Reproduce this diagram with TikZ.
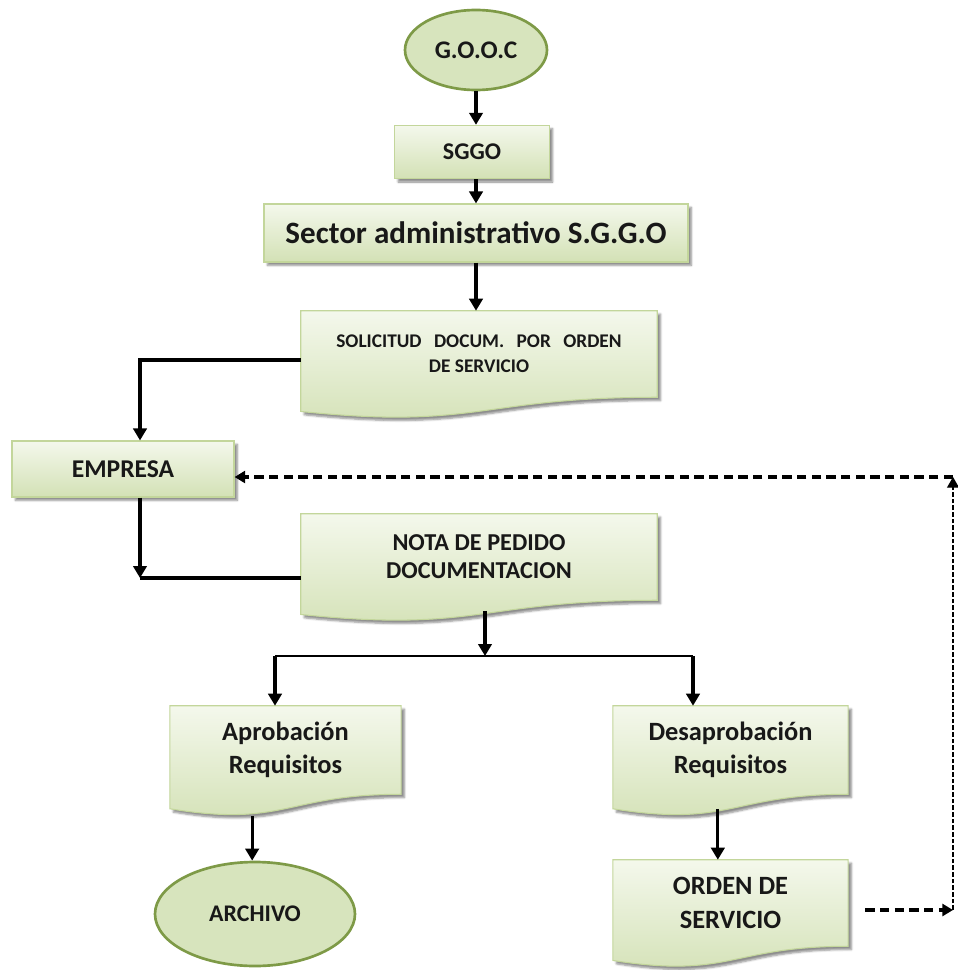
\documentclass[tikz,border=0pt]{standalone}
\usepackage{fontspec}
\setmainfont{Carlito}
\usetikzlibrary{arrows.meta,shapes.geometric,shadows.blur,backgrounds}

\definecolor{boxtop}{HTML}{F4F8EC}
\definecolor{boxbot}{HTML}{D3E1B5}
\definecolor{boxline}{HTML}{C3D69B}
\definecolor{ovalfill}{HTML}{D7E4BD}
\definecolor{ovalline}{HTML}{7E9A47}
\definecolor{txt}{HTML}{181818}

\tikzset{
    myshadow/.style={blur shadow={shadow xshift=2.5pt,shadow yshift=-2.5pt,
                     shadow blur steps=5,shadow blur radius=1.5pt,shadow opacity=45}},
    box/.style={rectangle,draw=boxline,line width=0.8pt,top color=boxtop,
                bottom color=boxbot,myshadow,text=txt,font=\bfseries,align=center},
    docnode/.style={rectangle,inner sep=0pt,text=txt,font=\bfseries,align=center},
    docfill/.style={draw=boxline,line width=0.8pt,top color=boxtop,bottom color=boxbot,myshadow},
    oval/.style={ellipse,draw=ovalline,line width=2pt,fill=ovalfill,inner sep=0pt,
                 text=txt,font=\bfseries},
    flow/.style={line width=2.4pt,-{Triangle[width=10pt,length=9pt]}},
    plainline/.style={line width=2.4pt},
    splitline/.style={line width=1.6pt},
    backflow/.style={line width=2.4pt,dash pattern=on 7pt off 4pt,-{Triangle[width=9pt,length=8pt]}},
    thindash/.style={line width=0.8pt,dash pattern=on 3.5pt off 1.5pt,-{Triangle[width=9pt,length=8pt]}}
}

% document shape: name, height of the straight part
\newcommand{\docpath}[2]{%
    \path[docfill] (#1.north west) -- (#1.north east) -- (#1.south east)
        .. controls (#1.south) and ([yshift={-0.38*#2}]#1.south)
        .. ([yshift={-0.165*#2}]#1.south west) -- cycle;}

\begin{document}
\begin{tikzpicture}[x=0.75pt,y=-0.75pt]
    \useasboundingbox (0,0) rectangle (957,970);

    \node[oval,minimum width=106.5pt,minimum height=60pt,font=\bfseries\fontsize{19}{22}\selectfont] (gooc) at (476,50) {G.O.O.C};
    \node[box,minimum width=116pt,minimum height=40pt,font=\bfseries\fontsize{18}{21}\selectfont] (sggo) at (472,152) {SGGO};
    \node[box,minimum width=318pt,minimum height=43.5pt,font=\bfseries\fontsize{23.3}{27}\selectfont] (sector) at (476,233) {Sector administrativo S.G.G.O};
    \node[docnode,minimum width=267pt,minimum height=64.5pt,font=\bfseries\fontsize{14.5}{19}\selectfont] (sol) at (479,354)
        {\makebox[214pt][s]{SOLICITUD DOCUM. POR ORDEN}\\DE SERVICIO};
    \node[box,minimum width=166.5pt,minimum height=42pt,font=\bfseries\fontsize{19.2}{22}\selectfont] (empresa) at (123,469) {EMPRESA};
    \node[docnode,minimum width=267pt,minimum height=64.5pt,font=\bfseries\fontsize{18.2}{21}\selectfont] (nota) at (479,557)
        {NOTA DE PEDIDO\\DOCUMENTACION};
    \node[docnode,minimum width=173pt,minimum height=66pt,font=\bfseries\fontsize{19.8}{24.75}\selectfont] (apro) at (285.5,750)
        {Aprobación\\Requisitos};
    \node[docnode,minimum width=176pt,minimum height=66pt,font=\bfseries\fontsize{19.8}{24.75}\selectfont] (desa) at (730.5,750)
        {Desaprobación\\Requisitos};
    \node[oval,minimum width=150pt,minimum height=78pt,font=\bfseries\fontsize{17.9}{21}\selectfont] (archivo) at (255,914) {ARCHIVO};
    \node[docnode,minimum width=176pt,minimum height=64.5pt,font=\bfseries\fontsize{19.8}{25.5}\selectfont] (orden) at (730.5,903)
        {ORDEN DE\\SERVICIO};

    \begin{scope}[on background layer]
        \docpath{sol}{64.5pt}
        \docpath{nota}{64.5pt}
        \docpath{apro}{66pt}
        \docpath{desa}{66pt}
        \docpath{orden}{64.5pt}
    \end{scope}

    \coordinate (join) at (140,578);
    \coordinate (splitL) at (275,656);
    \coordinate (splitR) at (693,656);
    \coordinate (retA) at (953,910);
    \coordinate (retB) at (953,477);

    \draw[flow] (gooc.south) -- (gooc.south |- sggo.north);
    \draw[flow] ([xshift=3pt]sggo.south) -- ([xshift=3pt]sggo.south |- sector.north);
    \draw[flow] (sector.south) -- (sector.south |- sol.north);
    \draw[flow] ([yshift=-4.5pt]sol.west) -| (join |- empresa.north);
    \draw[flow] (join |- empresa.south) -- (join);
    \draw[plainline] (nota.west |- join) -- (join);
    \draw[flow] ([xshift=4.5pt,yshift=-8pt]nota.south) -- ([xshift=4.5pt]nota.south |- splitL);
    \draw[splitline] (splitL) -- (splitR);
    \draw[flow] (splitL) -- (splitL |- apro.north);
    \draw[flow] (splitR) -- (splitR |- desa.north);
    \draw[flow] ([xshift=-25pt,yshift=-16pt]apro.south) -- ([xshift=-25pt]apro.south |- archivo.north);
    \draw[flow] ([xshift=-9.5pt,yshift=-11pt]desa.south) -- ([xshift=-9.5pt]desa.south |- orden.north);

    \draw[backflow] ([xshift=13pt]orden.east |- retA) -- (retA);
    \draw[thindash] (retA) -- (retB);
    \draw[backflow] (retB) -- (empresa.east |- retB);
\end{tikzpicture}
\end{document}
